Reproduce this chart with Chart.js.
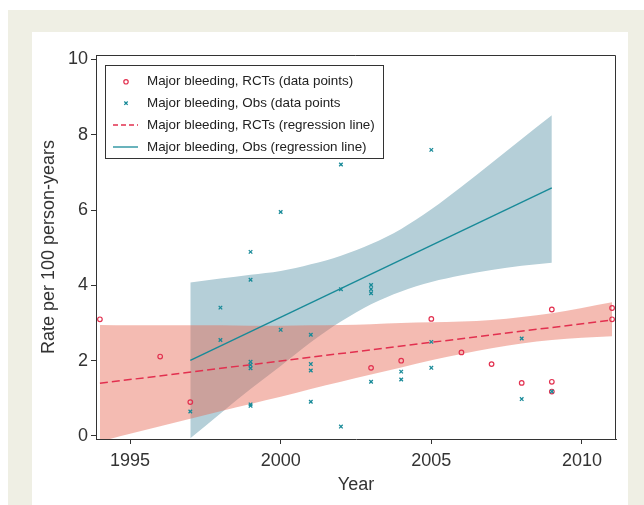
<!DOCTYPE html>
<html><head><meta charset="utf-8">
<script src="https://cdn.jsdelivr.net/npm/chart.js@4.4.0/dist/chart.umd.min.js"></script>
<style>
html,body{margin:0;padding:0;background:#fff;overflow:hidden;}
#outer{position:absolute;left:8px;top:10px;width:636px;height:495px;background:#efefe4;}
#inner{position:absolute;left:32px;top:32px;width:596px;height:473px;background:#fff;}
#wrap{position:absolute;left:0;top:0;width:644px;height:505px;}
</style></head><body>
<div id="outer"></div><div id="inner"></div>
<div id="wrap"><canvas id="c" width="644" height="505"></canvas></div>
<script>
// ---- data ----
const xTicks = [1995, 2000, 2005, 2010];
const yTicks = [0, 2, 4, 6, 8, 10];

const rctYears = [1994, 1996, 1997, 2003, 2004, 2005, 2006, 2007, 2008, 2009, 2009, 2009, 2011, 2011];
const rctRates = [3.10, 2.11, 0.90, 1.81, 2.00, 3.11, 2.22, 1.91, 1.41, 3.36, 1.44, 1.18, 3.40, 3.10];

const obsYears = [1997, 1998, 1998, 1999, 1999, 1999, 1999, 1999, 1999, 1999, 2000, 2000, 2001, 2001, 2001, 2001,
                  2002, 2002, 2002, 2003, 2003, 2003, 2003, 2004, 2004, 2005, 2005, 2005, 2008, 2008, 2009];
const obsRates = [0.65, 3.41, 2.55, 4.89, 4.15, 1.97, 1.89, 1.80, 0.84, 0.80, 5.95, 2.82, 2.69, 1.91, 1.74, 0.91,
                  7.21, 3.90, 0.25, 4.01, 3.90, 3.79, 1.44, 1.71, 1.50, 7.60, 2.50, 1.81, 2.59, 0.98, 1.18];

const rctLineYears = [1994, 2011];
const rctLineRates = [1.40, 3.08];
const obsLineYears = [1997, 2009];
const obsLineRates = [2.01, 6.59];

const rctBandYears = [1994, 1995, 1996, 1997, 1998, 1999, 2000, 2001, 2002, 2003, 2004, 2005, 2006, 2007, 2008, 2009, 2010, 2011];
const rctBandUpper = [2.95, 2.94, 2.94, 2.94, 2.94, 2.93, 2.93, 2.94, 2.95, 2.97, 3.00, 3.02, 3.04, 3.08, 3.16, 3.26, 3.40, 3.55];
const rctBandLower = [-0.15, 0.06, 0.26, 0.46, 0.66, 0.85, 1.04, 1.25, 1.44, 1.63, 1.82, 2.01, 2.18, 2.33, 2.46, 2.55, 2.61, 2.65];

const obsBandYears = [1997, 1998, 1999, 2000, 2001, 2002, 2003, 2004, 2005, 2006, 2007, 2008, 2009];
const obsBandUpper = [4.08, 4.18, 4.28, 4.38, 4.56, 4.79, 5.10, 5.50, 6.02, 6.62, 7.25, 7.89, 8.52];
const obsBandLower = [-0.06, 0.60, 1.25, 1.86, 2.49, 3.04, 3.50, 3.84, 4.09, 4.27, 4.41, 4.52, 4.60];

const legendLabels = [
  'Major bleeding, RCTs (data points)',
  'Major bleeding, Obs (data points',
  'Major bleeding, RCTs (regression line)',
  'Major bleeding, Obs (regression line)'
];

// ---- styles ----
const RED = '#e2304f';
const TEAL = '#188a98';
const AXIS = '#333333';
const FONT = "'Liberation Sans', Arial, Helvetica, sans-serif";

const pts = (xs, ys) => xs.map((x, i) => ({x: x, y: ys[i]}));

const framePlugin = {
  id: 'frame',
  afterDraw(chart) {
    const {ctx, chartArea: a} = chart;
    ctx.save();
    ctx.strokeStyle = AXIS;
    ctx.lineWidth = 1;
    ctx.beginPath();
    ctx.moveTo(a.left, a.top + 0.5);
    ctx.lineTo(a.right - 0.5, a.top + 0.5);
    ctx.lineTo(a.right - 0.5, a.bottom);
    ctx.stroke();
    ctx.restore();
  }
};

const legendPlugin = {
  id: 'boxLegend',
  afterDraw(chart) {
    const {ctx, chartArea: a} = chart;
    const bx = a.left + 9, by = a.top + 10, bw = 278, bh = 93;
    ctx.save();
    ctx.fillStyle = '#fff';
    ctx.fillRect(bx, by, bw, bh);
    ctx.strokeStyle = AXIS;
    ctx.lineWidth = 1;
    ctx.strokeRect(bx + 0.5, by + 0.5, bw, bh);
    const mx = bx + 21, lx0 = bx + 8, lx1 = bx + 33, tx = bx + 42;
    const rows = [by + 16.8, by + 38.2, by + 60, by + 82];
    ctx.strokeStyle = RED; ctx.lineWidth = 1.2;
    ctx.beginPath(); ctx.arc(mx, rows[0], 2.2, 0, Math.PI * 2); ctx.stroke();
    ctx.strokeStyle = TEAL; ctx.lineWidth = 1.3;
    ctx.beginPath();
    ctx.moveTo(mx - 1.7, rows[1] - 1.7); ctx.lineTo(mx + 1.7, rows[1] + 1.7);
    ctx.moveTo(mx - 1.7, rows[1] + 1.7); ctx.lineTo(mx + 1.7, rows[1] - 1.7);
    ctx.stroke();
    ctx.strokeStyle = RED; ctx.lineWidth = 1.3; ctx.setLineDash([5, 3]);
    ctx.beginPath(); ctx.moveTo(lx0, rows[2]); ctx.lineTo(lx1, rows[2]); ctx.stroke();
    ctx.setLineDash([]);
    ctx.strokeStyle = TEAL; ctx.lineWidth = 1.3;
    ctx.beginPath(); ctx.moveTo(lx0, rows[3]); ctx.lineTo(lx1, rows[3]); ctx.stroke();
    ctx.fillStyle = '#222';
    ctx.font = '13.4px ' + FONT;
    ctx.textBaseline = 'middle';
    ctx.textAlign = 'left';
    legendLabels.forEach((t, i) => ctx.fillText(t, tx, rows[i]));
    ctx.restore();
  }
};

const bandCommon = {type: 'line', pointRadius: 0, borderWidth: 0, borderColor: 'rgba(0,0,0,0)', tension: 0, cubicInterpolationMode: 'monotone'};

new Chart(document.getElementById('c'), {
  type: 'line',
  data: {
    datasets: [
      Object.assign({}, bandCommon, {label: 'obsLo', data: pts(obsBandYears, obsBandLower), fill: false, order: 10}),
      Object.assign({}, bandCommon, {label: 'obsHi', data: pts(obsBandYears, obsBandUpper), fill: {target: 0}, backgroundColor: '#b5cfd8', order: 9}),
      Object.assign({}, bandCommon, {label: 'rctLo', data: pts(rctBandYears, rctBandLower), fill: false, order: 8}),
      Object.assign({}, bandCommon, {label: 'rctHi', data: pts(rctBandYears, rctBandUpper), fill: {target: 2}, backgroundColor: 'rgba(230,105,85,0.45)', order: 7}),
      {type: 'line', label: legendLabels[3], data: pts(obsLineYears, obsLineRates), borderColor: TEAL, borderWidth: 1.4, pointRadius: 0, fill: false, order: 3},
      {type: 'line', label: legendLabels[2], data: pts(rctLineYears, rctLineRates), borderColor: RED, borderWidth: 1.5, borderDash: [8, 4], pointRadius: 0, fill: false, order: 2},
      {type: 'line', label: legendLabels[0], data: pts(rctYears, rctRates), showLine: false, pointStyle: 'circle', pointRadius: 2.3, pointBorderWidth: 1.2, pointBorderColor: RED, pointBackgroundColor: 'rgba(0,0,0,0)', order: 1},
      {type: 'line', label: legendLabels[1], data: pts(obsYears, obsRates), showLine: false, pointStyle: 'crossRot', pointRadius: 2.5, pointBorderWidth: 1.3, pointBorderColor: TEAL, order: 0}
    ]
  },
  options: {
    responsive: false,
    animation: false,
    events: [],
    layout: {padding: {top: 55, right: 28, left: 0, bottom: 0}},
    plugins: {legend: {display: false}, tooltip: {enabled: false}, filler: {propagate: false}},
    scales: {
      x: {
        type: 'linear', min: 1993.87, max: 2011.13,
        afterBuildTicks: s => { s.ticks = xTicks.map(v => ({value: v})); },
        afterFit: s => { s.height = 66; },
        grid: {display: true, drawOnChartArea: false, drawTicks: true, tickLength: 5, tickColor: AXIS, color: AXIS, tickWidth: 1},
        border: {display: true, color: AXIS, width: 1},
        ticks: {color: '#333', font: {family: FONT, size: 18}, padding: 6, maxRotation: 0, autoSkip: false, callback: v => String(v)},
        title: {display: true, text: 'Year', color: '#333', font: {family: FONT, size: 18}, padding: {top: 0, bottom: 9}}
      },
      y: {
        type: 'linear', min: -0.08, max: 10.12,
        afterBuildTicks: s => { s.ticks = yTicks.map(v => ({value: v})); },
        afterFit: s => { s.width = 96; },
        grid: {display: true, drawOnChartArea: false, drawTicks: true, tickLength: 5, tickColor: AXIS, color: AXIS, tickWidth: 1},
        border: {display: true, color: AXIS, width: 1},
        ticks: {color: '#333', font: {family: FONT, size: 18}, padding: 3, autoSkip: false, callback: v => String(v)},
        title: {display: true, text: 'Rate per 100 person-years', color: '#333', font: {family: FONT, size: 18}, padding: {top: 38, bottom: 0}}
      }
    }
  },
  plugins: [framePlugin, legendPlugin]
});
</script>
</body></html>
